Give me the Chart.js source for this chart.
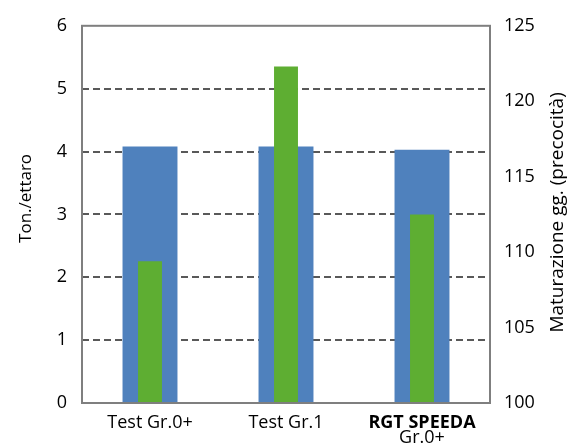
<!DOCTYPE html>
<html>
<head>
<meta charset="utf-8">
<script src="https://cdn.jsdelivr.net/npm/chart.js@4"></script>
<style>
  html,body{margin:0;padding:0;background:#fff;}
  #wrap{width:569px;height:446px;}
</style>
</head>
<body>
<div id="wrap"><canvas id="chart" width="569" height="446"></canvas></div>
<script>
// ===================== Daten =====================
const categories = ['Test Gr.0+', 'Test Gr.1', ['RGT SPEEDA', 'Gr.0+']];
const resa = [4.08, 4.08, 4.03];            // Ton./ettaro (asse sinistro)
const maturazione = [109.4, 122.3, 112.5];  // gg. (asse destro)
const titoloSx = 'Ton./ettaro';
const titoloDx = 'Maturazione gg. (precocità)';

const FONT = "'Open Sans', sans-serif";
const GRID = '#595959';
const FRAME = '#7f7f7f';

// cornice + titoli assi + etichette categorie
const decoPlugin = {
    id: 'deco',
    afterDatasetsDraw(chart){
        const {ctx, chartArea: a} = chart;
        ctx.save();
        ctx.strokeStyle = FRAME;
        ctx.lineWidth = 2;
        ctx.strokeRect(a.left, a.top, a.right - a.left, a.bottom - a.top);
        ctx.restore();
    },
    afterDraw(chart){
        const {ctx, chartArea: a} = chart;
        const xs = chart.scales.x;
        ctx.save();
        ctx.fillStyle = '#000';
        ctx.textAlign = 'center';
        ctx.textBaseline = 'alphabetic';
        categories.forEach((lab, i) => {
            const x = xs.getPixelForValue(i);
            const lines = Array.isArray(lab) ? lab : [lab];
            lines.forEach((t, j) => {
                ctx.font = (i === 2 && j === 0 ? 'bold ' : '') + '18px ' + FONT;
                ctx.fillText(t, x, a.bottom + 25 + j * 15);
            });
        });
        // titoli verticali
        const cy = (a.top + a.bottom) / 2;
        ctx.textBaseline = 'middle';
        ctx.font = '17px ' + FONT;
        ctx.translate(26, cy - 16);
        ctx.rotate(-Math.PI / 2);
        ctx.fillText(titoloSx, 0, 0);
        ctx.setTransform(1, 0, 0, 1, 0, 0);
        ctx.font = '19px ' + FONT;
        ctx.translate(558, cy - 2);
        ctx.rotate(-Math.PI / 2);
        ctx.fillText(titoloDx, 0, 0);
        ctx.restore();
    }
};

new Chart(document.getElementById('chart'), {
    type: 'bar',
    data: {
        labels: categories,
        datasets: [
            {label: 'Maturazione', data: maturazione, yAxisID: 'y1', backgroundColor: '#5eae32',
             grouped: false, barPercentage: 0.176, categoryPercentage: 1, order: 0},
            {label: 'Resa', data: resa, yAxisID: 'y', backgroundColor: '#4f81bd',
             grouped: false, barPercentage: 0.404, categoryPercentage: 1, order: 1}
        ]
    },
    options: {
        responsive: false,
        animation: false,
        layout: {padding: {top: 21, left: 0, right: 0, bottom: 0}},
        plugins: {legend: {display: false}, tooltip: {enabled: false}},
        scales: {
            x: {
                grid: {display: false},
                border: {display: false},
                ticks: {display: false},
                afterFit: s => { s.height = 43; }
            },
            y: {
                position: 'left', min: 0, max: 6,
                ticks: {stepSize: 1, color: '#000', padding: 15, font: {family: FONT, size: 18}},
                grid: {
                    drawTicks: false, lineWidth: 2,
                    color: ctx => (ctx.tick && (ctx.tick.value === 0 || ctx.tick.value === 6)) ? 'rgba(0,0,0,0)' : GRID
                },
                border: {display: false, dash: [7, 4]},
                afterFit: s => { s.width = 82; }
            },
            y1: {
                position: 'right', min: 100, max: 125,
                ticks: {stepSize: 5, color: '#000', padding: 14, font: {family: FONT, size: 18}},
                grid: {display: false, drawTicks: false},
                border: {display: false},
                afterFit: s => { s.width = 79; }
            }
        }
    },
    plugins: [decoPlugin]
});
</script>
</body>
</html>
